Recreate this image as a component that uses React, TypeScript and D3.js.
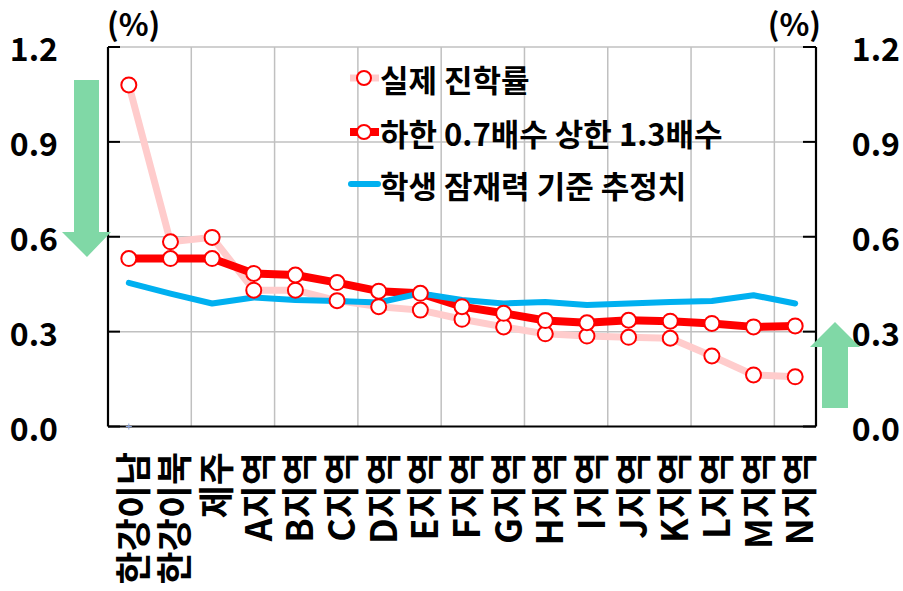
import React from "react";
import * as d3 from "d3";

const categories = ["한강이남", "한강이북", "제주", "A지역", "B지역", "C지역", "D지역", "E지역", "F지역", "G지역", "H지역", "I지역", "J지역", "K지역", "L지역", "M지역", "N지역"];
const actualRate = [1.08, 0.584, 0.598, 0.431, 0.431, 0.398, 0.379, 0.368, 0.339, 0.315, 0.293, 0.286, 0.282, 0.279, 0.223, 0.163, 0.157];
const boundRate = [0.531, 0.531, 0.531, 0.484, 0.479, 0.455, 0.428, 0.421, 0.379, 0.358, 0.335, 0.328, 0.336, 0.333, 0.326, 0.315, 0.318];
const potentialRate = [0.454, 0.42, 0.389, 0.408, 0.40, 0.397, 0.392, 0.421, 0.40, 0.389, 0.394, 0.384, 0.389, 0.394, 0.397, 0.415, 0.389];
const yTicks = [0, 0.3, 0.6, 0.9, 1.2];
const legendLabels = ["실제 진학률", "하한 0.7배수 상한 1.3배수", "학생 잠재력 기준 추정치"];

const FONT = "'Noto Sans CJK KR', 'Noto Sans', sans-serif";
const W = 903, H = 591;
const L = 108, R = 816, T = 47, B = 426.5;

export default function App() {
  const x = d3.scaleBand<string>().domain(categories).range([L, R]).padding(0);
  const y = d3.scaleLinear().domain([0, 1.2]).range([B, T]);
  const cx = (i: number) => (x(categories[i]) as number) + x.bandwidth() / 2;
  const line = d3.line<number>().x((_, i) => cx(i)).y((d) => y(d));
  const green = "#80d8a6";

  return (
    <svg width={W} height={H} style={{ position: "absolute", left: 0, top: 0, fontFamily: FONT }}>
      <rect width={W} height={H} fill="#fff" />
      {/* gridlines */}
      {yTicks.filter((t) => t > 0).map((t) => (
        <line key={"h" + t} x1={L} x2={R} y1={y(t)} y2={y(t)} stroke="#c0c0c0" strokeWidth={1.5} />
      ))}
      {categories.map((c, i) => (i > 0 && i % 2 === 0 ? (
        <line key={"v" + c} x1={x(c)} x2={x(c)} y1={T} y2={B} stroke="#c0c0c0" strokeWidth={1.5} />
      ) : null))}
      {/* axes */}
      <line x1={L} x2={L} y1={T} y2={B} stroke="#000" strokeWidth={2.2} />
      <line x1={R} x2={R} y1={T} y2={B} stroke="#000" strokeWidth={2.2} />
      <line x1={L} x2={R} y1={B} y2={B} stroke="#000" strokeWidth={2.2} />
      {yTicks.map((t) => (
        <g key={"t" + t}>
          <line x1={L} x2={L + 12} y1={y(t)} y2={y(t)} stroke="#000" strokeWidth={2} />
          <line x1={R - 13} x2={R} y1={y(t)} y2={y(t)} stroke="#000" strokeWidth={2} />
          <text x={58} y={y(t)} textAnchor="end" dominantBaseline="central" fontSize={32} fontWeight="bold">{t.toFixed(1)}</text>
          <text x={900} y={y(t)} textAnchor="end" dominantBaseline="central" fontSize={32} fontWeight="bold">{t.toFixed(1)}</text>
        </g>
      ))}
      <text x={107} y={36} fontSize={31} fontWeight="bold">(%)</text>
      <text x={821} y={36} textAnchor="end" fontSize={31} fontWeight="bold">(%)</text>
      {/* small marker at origin */}
      <g stroke="#8fa8e0" strokeWidth={1}>
        <line x1={cx(0) - 3} x2={cx(0) + 3} y1={B} y2={B} />
        <line x1={cx(0)} x2={cx(0)} y1={B - 3} y2={B + 3} />
      </g>
      {/* series */}
      <path d={line(actualRate) as string} fill="none" stroke="#ffcccc" strokeWidth={7} strokeLinejoin="round" />
      <path d={line(boundRate) as string} fill="none" stroke="#ff0000" strokeWidth={8} strokeLinejoin="round" />
      <path d={line(potentialRate) as string} fill="none" stroke="#00b0f0" strokeWidth={6} strokeLinejoin="round" strokeLinecap="round" />
      {actualRate.map((v, i) => (
        <circle key={"a" + i} cx={cx(i)} cy={y(v)} r={7.5} fill="#fff" stroke="#ff0000" strokeWidth={2} />
      ))}
      {boundRate.map((v, i) => (
        <circle key={"b" + i} cx={cx(i)} cy={y(v)} r={7.5} fill="#fff" stroke="#ff0000" strokeWidth={2} />
      ))}
      {/* legend */}
      <g fontSize={31} fontWeight="bold">
        <line x1={350} x2={379} y1={78} y2={78} stroke="#ffcccc" strokeWidth={7} />
        <circle cx={364} cy={78} r={7} fill="#fff" stroke="#ff0000" strokeWidth={2} />
        <text x={380} y={78} dominantBaseline="central">{legendLabels[0]}</text>
        <line x1={350} x2={379} y1={132} y2={132} stroke="#ff0000" strokeWidth={8} />
        <circle cx={364} cy={132} r={7} fill="#fff" stroke="#ff0000" strokeWidth={2} />
        <text x={380} y={132} dominantBaseline="central">{legendLabels[1]}</text>
        <line x1={351} x2={378} y1={184} y2={184} stroke="#00b0f0" strokeWidth={6} strokeLinecap="round" />
        <text x={380} y={184} dominantBaseline="central">{legendLabels[2]}</text>
      </g>
      {/* category labels */}
      {categories.map((c, i) => (
        <text key={"c" + c} transform={`translate(${cx(i) + 2},452) rotate(-90)`} textAnchor="end" dominantBaseline="central" fontSize={36} fontWeight="bold">{c}</text>
      ))}
      {/* arrows */}
      <path d="M74,80 L99,80 L99,232 L111,232 L87,257 L62,232 L74,232 Z" fill={green} />
      <path d="M822,408 L848,408 L848,347 L860,347 L835,322 L810,347 L822,347 Z" fill={green} />
    </svg>
  );
}
